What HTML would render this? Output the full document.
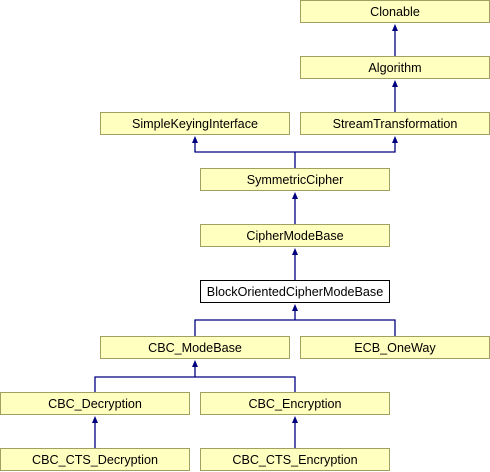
<!DOCTYPE html>
<html><head><meta charset="utf-8"><style>
html,body{margin:0;padding:0;background:#fff;}
svg{display:block;}
text{font-family:"Liberation Sans",Arial,sans-serif;font-size:12.6px;fill:#000;text-anchor:middle;}
.b{fill:#ffffc0;stroke:#a0a060;stroke-width:1;}
.w{fill:#fff;stroke:#000;stroke-width:1;}
.l{stroke:#000080;stroke-width:1.3;fill:none;}
.a{fill:#000080;}
</style></head><body>
<svg width="490" height="472" viewBox="0 0 490 472">
<path class="l" d="M395,56V26 M395,112V82 M295,168V152H195V138 M295,152H395V138 M295,224V194 M295,280V250 M195,336V320H395V336 M295,320V306 M95,392V377H295V392 M195,377V362 M95,448V418 M295,448V418"/>
<g class="a">
<path d="M395,24l-3,7h6z"/><path d="M395,80l-3,7h6z"/>
<path d="M195,136l-3,7h6z"/><path d="M395,136l-3,7h6z"/>
<path d="M295,192l-3,7h6z"/><path d="M295,248l-3,7h6z"/>
<path d="M295,304l-3,7h6z"/><path d="M195,360l-3,7h6z"/>
<path d="M95,416l-3,7h6z"/><path d="M295,416l-3,7h6z"/>
</g>
<rect class="b" x="300.5" y="0.5" width="189" height="22"/><text x="395" y="16">Clonable</text>
<rect class="b" x="300.5" y="56.5" width="189" height="22"/><text x="395" y="72">Algorithm</text>
<rect class="b" x="100.5" y="112.5" width="189" height="22"/><text x="195" y="128">SimpleKeyingInterface</text>
<rect class="b" x="300.5" y="112.5" width="189" height="22"/><text x="395" y="128">StreamTransformation</text>
<rect class="b" x="200.5" y="168.5" width="189" height="22"/><text x="295" y="184">SymmetricCipher</text>
<rect class="b" x="200.5" y="224.5" width="189" height="22"/><text x="295" y="240">CipherModeBase</text>
<rect class="w" x="200.5" y="280.5" width="189" height="22"/><text x="295" y="296">BlockOrientedCipherModeBase</text>
<rect class="b" x="100.5" y="336.5" width="189" height="22"/><text x="195" y="352">CBC_ModeBase</text>
<rect class="b" x="300.5" y="336.5" width="189" height="22"/><text x="395" y="352">ECB_OneWay</text>
<rect class="b" x="0.5" y="392.5" width="189" height="22"/><text x="95" y="408">CBC_Decryption</text>
<rect class="b" x="200.5" y="392.5" width="189" height="22"/><text x="295" y="408">CBC_Encryption</text>
<rect class="b" x="0.5" y="448.5" width="189" height="22"/><text x="95" y="464">CBC_CTS_Decryption</text>
<rect class="b" x="200.5" y="448.5" width="189" height="22"/><text x="295" y="464">CBC_CTS_Encryption</text>
</svg>
</body></html>
